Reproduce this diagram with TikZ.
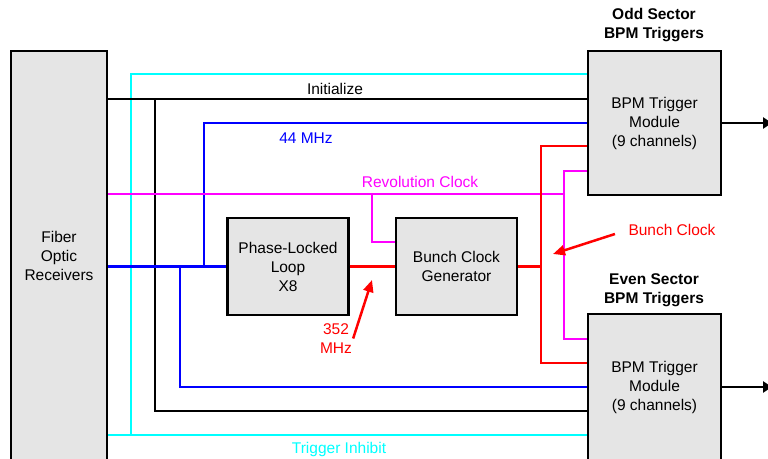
\documentclass[tikz,border=0pt]{standalone}
\usepackage{fontspec}
\setmainfont{Liberation Sans}
\usetikzlibrary{positioning,arrows.meta}
\definecolor{sigcyan}{RGB}{0,255,255}
\definecolor{sigmag}{RGB}{255,0,255}
\definecolor{sigblue}{RGB}{0,0,255}
\definecolor{sigred}{RGB}{255,0,0}
\begin{document}
\begin{tikzpicture}[x=1pt, y=-1pt,
  font=\fontsize{15.5}{19}\selectfont,
  box/.style={draw, line width=2.8pt, fill=gray!20, align=center, inner sep=2pt},
  lbl/.style={inner sep=1pt, align=center},
  wire/.style={line width=2.5pt},
  outarr/.style={wire, -{Triangle[length=9pt,width=11pt]}},
  tagarr/.style={wire, sigred, -{Triangle[length=12pt,width=10pt]}}]
  \useasboundingbox (0,0) rectangle (768,458);
  \node[box, minimum width=96pt, minimum height=410pt] (fiber) at (59,256) {Fiber\\Optic\\Receivers};
  \node[box, minimum width=133pt, minimum height=144pt] (odd) at (654.5,123) {BPM Trigger\\Module\\(9 channels)};
  \node[box, minimum width=133pt, minimum height=146pt] (even) at (654.5,387) {BPM Trigger\\Module\\(9 channels)};
  \node[box, minimum width=120.5pt, minimum height=97pt] (pll) at (288,266.5) {Phase-Locked\\Loop\\X8};
  \node[box, minimum width=121pt, minimum height=97pt] (bcg) at (456.5,266.5) {Bunch Clock\\Generator};
  \node[lbl, font=\fontsize{15.5}{19}\selectfont\bfseries] (oddtitle) at (654,25.5) {Odd Sector\\BPM Triggers};
  \node[lbl, font=\fontsize{15.5}{19}\selectfont\bfseries] (eventitle) at (654,290.5) {Even Sector\\BPM Triggers};
  \node[lbl] (init) at (335,89) {Initialize};
  \node[lbl, text=sigblue] (mhz44) at (306,138) {44 MHz};
  \node[lbl, text=sigmag] (revclk) at (420,182) {Revolution Clock};
  \node[lbl, text=sigcyan] (inhibit) at (339,449) {Trigger Inhibit};
  \node[lbl, text=sigred] (bclk) at (672,230) {Bunch Clock};
  \node[lbl, text=sigred] (mhz352) at (336,338.5) {352\\MHz};

  \coordinate (cyB) at (131,435);
  \coordinate (cyT) at (131,74);
  \coordinate (bkT) at (155,99);
  \coordinate (bkB) at (155,411);
  \coordinate (buA) at (180,266.5);
  \coordinate (buD) at (180,387);
  \coordinate (buB) at (204,266.5);
  \coordinate (buT) at (204,123);
  \coordinate (mgK) at (372,194);
  \coordinate (mgL) at (372,242);
  \coordinate (mgJ) at (564,194);
  \coordinate (mgT) at (564,171);
  \coordinate (mgB) at (564,339);
  \coordinate (rdJ) at (541,266.5);
  \coordinate (rdT) at (541,146);
  \coordinate (rdB) at (541,363);
  \coordinate (oddout) at (772,123);
  \coordinate (evenout) at (772,387);
  \coordinate (plltip) at (372,280);
  \coordinate (bcltip) at (553,254);

  \draw[wire, sigcyan] (fiber.east |- cyB) -- (even.west |- cyB);
  \draw[wire, sigcyan] (cyB) -- (cyT) -- (odd.west |- cyT);
  \draw[wire] (fiber.east |- bkT) -- (odd.west |- bkT);
  \draw[wire] (bkT) -- (bkB) -- (even.west |- bkB);
  \draw[wire, sigblue] (fiber.east |- pll.west) -- (pll.west);
  \draw[wire, sigblue] (buB) -- (buT) -- (odd.west |- buT);
  \draw[wire, sigblue] (buA) -- (buD) -- (even.west |- buD);
  \draw[wire, sigmag] (fiber.east |- mgJ) -- (mgJ);
  \draw[wire, sigmag] (odd.west |- mgT) -- (mgT) -- (mgB) -- (even.west |- mgB);
  \draw[wire, sigmag] (mgK) -- (mgL) -- (bcg.west |- mgL);
  \draw[wire, sigred] (pll.east) -- (bcg.west);
  \draw[wire, sigred] (bcg.east) -- (rdJ);
  \draw[wire, sigred] (odd.west |- rdT) -- (rdT) -- (rdB) -- (even.west |- rdB);
  \draw[outarr] (odd.east) -- (oddout);
  \draw[outarr] (even.east) -- (evenout);
  \draw[tagarr] (mhz352.east) -- (plltip);
  \draw[tagarr, shorten <=13pt] (bclk.west) -- (bcltip);
\end{tikzpicture}
\end{document}
